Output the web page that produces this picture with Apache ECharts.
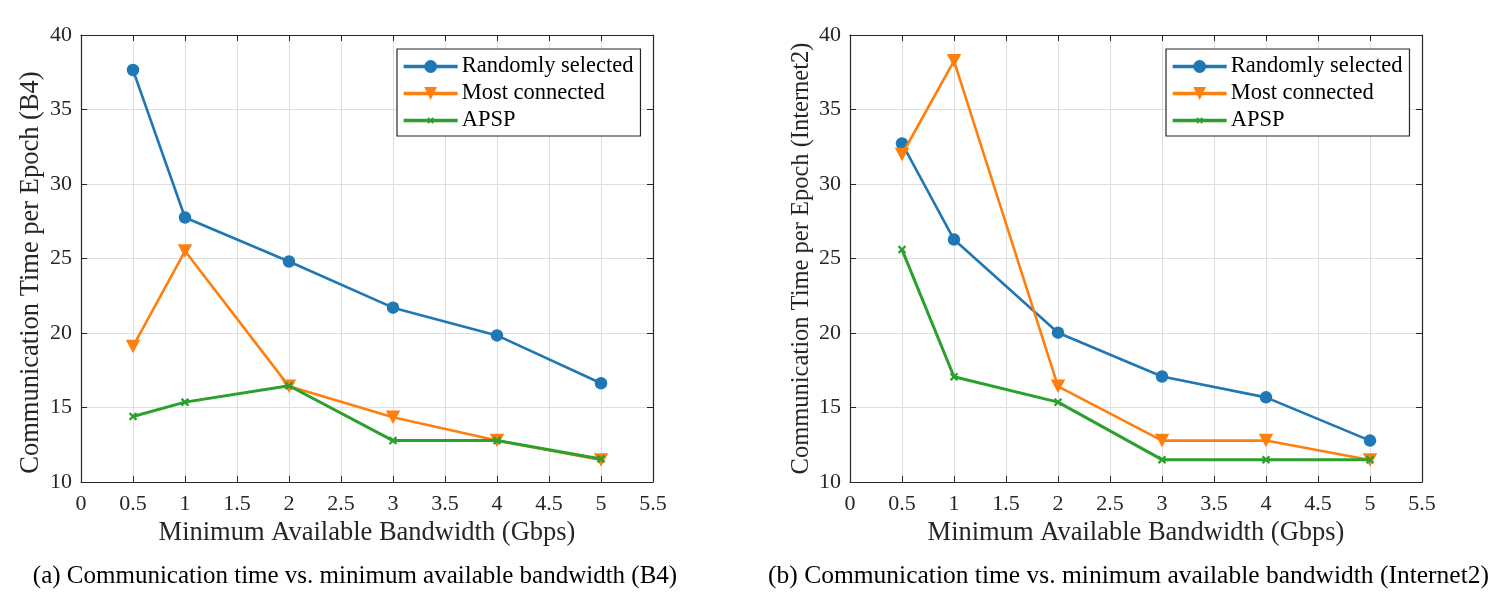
<!DOCTYPE html>
<html>
<head>
<meta charset="utf-8">
<script src="https://cdn.jsdelivr.net/npm/echarts@6/dist/echarts.min.js"></script>
<style>
html,body{margin:0;padding:0;background:#fff;}
#chart{width:1501px;height:610px;}
</style>
</head>
<body>
<div id="chart"></div>
<script>
// ---- data ----
const bandwidth = [0.5, 1, 2, 3, 4, 5];
const seriesNames = ['Randomly selected', 'Most connected', 'APSP'];
const b4Random = [37.65, 27.75, 24.8, 21.7, 19.84, 16.63];
const b4Most   = [19.1, 25.5, 16.42, 14.35, 12.78, 11.48];
const b4Apsp   = [14.4, 15.36, 16.46, 12.78, 12.78, 11.55];
const i2Random = [32.72, 26.27, 20.02, 17.08, 15.68, 12.78];
const i2Most   = [31.98, 38.27, 16.42, 12.78, 12.78, 11.48];
const i2Apsp   = [25.6, 17.06, 15.36, 11.5, 11.5, 11.5];
const yAxisNames = ['Communication Time per Epoch (B4)', 'Communication Time per Epoch (Internet2)'];
const xAxisName = 'Minimum Available Bandwidth (Gbps)';
const captions = [
  '(a) Communication time vs. minimum available bandwidth (B4)',
  '(b) Communication time vs. minimum available bandwidth (Internet2)'
];

// ---- styles ----
const FONT = "'Liberation Serif', 'Times New Roman', serif";
const colors = ['#1f77b4', '#ff7f0e', '#2ca02c'];
const axisColor = '#262626';
const gridColor = '#dedede';
// X-shaped marker, drawn at half of its symbol box
const xMarker = 'path://M0,0 M20,20 M5,6.9 L6.9,5 L10,8.1 L13.1,5 L15,6.9 L11.9,10 L15,13.1 L13.1,15 L10,11.9 L6.9,15 L5,13.1 L8.1,10 Z';

const grids = [
  {left: 81, top: 35, width: 572, height: 447},
  {left: 850, top: 35, width: 572, height: 447}
];
const yNameFont = [26.5, 24.5];
const yNamePad = [[0, 28, 0, 0], [0, 0, 0, 0]];

function zip(vals) { return bandwidth.map((x, i) => [x, vals[i]]); }

const xAxes = [], yAxes = [], series = [], legends = [];
const dataSets = [[b4Random, b4Most, b4Apsp], [i2Random, i2Most, i2Apsp]];
const legendPos = [{left: 397, top: 49}, {left: 1166, top: 49}];

grids.forEach((g, gi) => {
  xAxes.push({
    type: 'value', gridIndex: gi, min: 0, max: 5.5, interval: 0.5, position: 'bottom',
    name: xAxisName, nameLocation: 'middle', nameGap: 38,
    nameTextStyle: {fontFamily: FONT, fontSize: 26.5, color: axisColor},
    axisLine: {show: true, onZero: false, lineStyle: {color: axisColor, width: 1.2}},
    axisTick: {show: true, inside: true, length: 6, lineStyle: {color: axisColor}},
    axisLabel: {fontFamily: FONT, fontSize: 22, color: axisColor, margin: 11},
    splitLine: {show: true, lineStyle: {color: gridColor, width: 1}}
  });
  xAxes.push({
    type: 'value', gridIndex: gi, min: 0, max: 5.5, interval: 0.5, position: 'top',
    axisLine: {show: true, onZero: false, lineStyle: {color: axisColor, width: 1.2}},
    axisTick: {show: true, inside: true, length: 6, lineStyle: {color: axisColor}},
    axisLabel: {show: false}, splitLine: {show: false}
  });
  yAxes.push({
    type: 'value', gridIndex: gi, min: 10, max: 40, interval: 5, position: 'left',
    name: yAxisNames[gi], nameLocation: 'middle', nameGap: 36,
    nameTextStyle: {fontFamily: FONT, fontSize: yNameFont[gi], color: axisColor, padding: yNamePad[gi]},
    axisLine: {show: true, onZero: false, lineStyle: {color: axisColor, width: 1.2}},
    axisTick: {show: true, inside: true, length: 6, lineStyle: {color: axisColor}},
    axisLabel: {fontFamily: FONT, fontSize: 22, color: axisColor, margin: 9},
    splitLine: {show: true, lineStyle: {color: gridColor, width: 1}}
  });
  yAxes.push({
    type: 'value', gridIndex: gi, min: 10, max: 40, interval: 5, position: 'right',
    axisLine: {show: true, onZero: false, lineStyle: {color: axisColor, width: 1.2}},
    axisTick: {show: true, inside: true, length: 6, lineStyle: {color: axisColor}},
    axisLabel: {show: false}, splitLine: {show: false}
  });
  const xi = gi * 2, yi = gi * 2;
  const ds = dataSets[gi];
  const symbols = [
    {symbol: 'circle', symbolSize: 12.5, symbolRotate: 0},
    {symbol: 'triangle', symbolSize: [14.5, 13.5], symbolRotate: 180},
    {symbol: xMarker, symbolSize: 17, symbolRotate: 0}
  ];
  const widths = [2.6, 2.6, 3];
  ds.forEach((vals, si) => {
    series.push({
      type: 'line', name: seriesNames[si], xAxisIndex: xi, yAxisIndex: yi,
      data: zip(vals), symbol: symbols[si].symbol, symbolSize: symbols[si].symbolSize,
      symbolRotate: symbols[si].symbolRotate, showAllSymbol: true,
      lineStyle: {color: colors[si], width: widths[si]},
      itemStyle: {color: colors[si], borderWidth: 0, opacity: 1},
      animation: false, silent: true, z: 2 + si,
      legendHoverLink: false
    });
  });
  legends.push({
    orient: 'vertical', left: legendPos[gi].left, top: legendPos[gi].top,
    data: seriesNames,
    itemWidth: 54, itemHeight: 16, itemGap: 4,
    padding: [6, 7, 4, 5],
    lineStyle: {width: 3.3},
    borderColor: '#262626', borderWidth: 1.2, backgroundColor: '#fff',
    textStyle: {fontFamily: FONT, fontSize: 22.5, color: '#000', lineHeight: 20, padding: [0, 0, 0, -1]},
    selectedMode: false,
    z: 10
  });
});

const chart = echarts.init(document.getElementById('chart'), null, {renderer: 'canvas'});
chart.setOption({
  animation: false,
  color: colors,
  grid: grids,
  xAxis: xAxes,
  yAxis: yAxes,
  series: series,
  legend: legends,
  graphic: [
    {type: 'text', x: 355, y: 576, style: {text: captions[0], font: "25px " + FONT, fill: '#000', textAlign: 'center', textVerticalAlign: 'middle'}},
    {type: 'text', x: 1128.5, y: 576, style: {text: captions[1], font: "25.5px " + FONT, fill: '#000', textAlign: 'center', textVerticalAlign: 'middle'}}
  ]
});
</script>
</body>
</html>
